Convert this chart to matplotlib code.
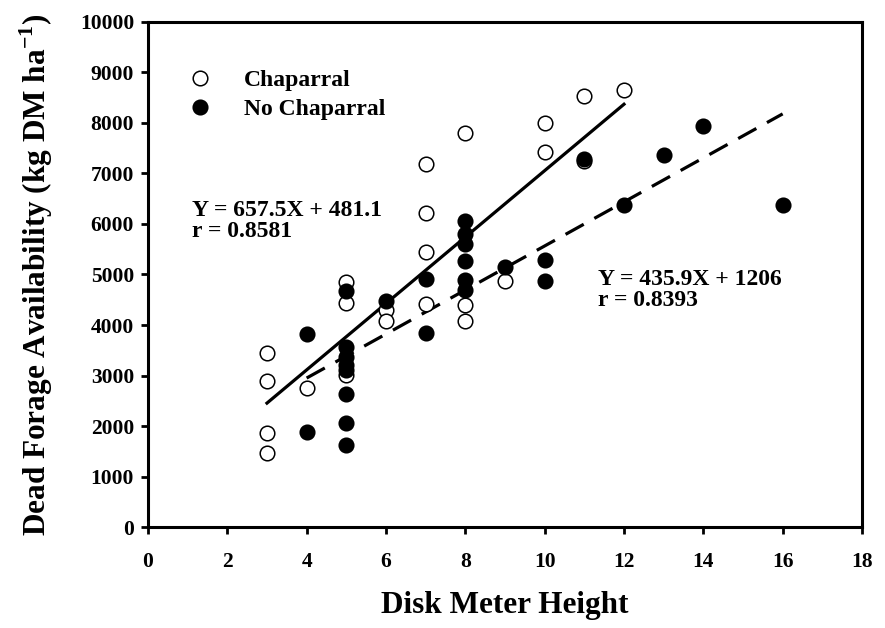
import numpy as np
import matplotlib
matplotlib.use("Agg")
import matplotlib.pyplot as plt

# Chaparral (open circles)
chap_x = [3, 3, 3, 3, 4, 5, 5, 5, 6, 6, 7, 7, 7, 7, 8, 8, 8, 9, 10, 10, 11, 11, 12]
chap_y = [3440, 2900, 1870, 1460, 2750, 4860, 4440, 3010, 4300, 4080,
          7190, 6220, 5440, 4420, 7800, 4400, 4080, 4880, 8000, 7420, 8540, 7240, 8650]

# No Chaparral (filled circles)
nochap_x = [4, 4, 5, 5, 5, 5, 5, 5, 5, 5, 6, 7, 7, 8, 8, 8, 8, 8, 8,
            9, 10, 10, 11, 12, 13, 14, 16]
nochap_y = [3820, 1880, 4680, 3560, 3370, 3210, 3100, 2640, 2060, 1620, 4480,
            4920, 3850, 6060, 5800, 5600, 5260, 4900, 4700,
            5150, 5280, 4880, 7280, 6370, 7370, 7950, 6380]

# regression fits as printed on the chart
chap_fit = (657.5, 481.1)
nochap_fit = (435.9, 1206)
chap_range = [3, 12]
nochap_range = [4, 16]

plt.rcParams['font.family'] = ['Liberation Serif', 'DejaVu Serif']
plt.rcParams['font.weight'] = 'bold'
plt.rcParams['mathtext.fontset'] = 'custom'
plt.rcParams['mathtext.bf'] = 'Liberation Serif:bold'
plt.rcParams['mathtext.rm'] = 'Liberation Serif:bold'

fig = plt.figure(figsize=(8.85, 6.28), dpi=100)
ax = fig.add_axes([0.1672, 0.1608, 0.8068, 0.8042])

xs = np.array(chap_range)
ax.plot(xs, chap_fit[0] * xs + chap_fit[1], color='black', lw=2.3, zorder=2)
xs = np.array(nochap_range)
ax.plot(xs, nochap_fit[0] * xs + nochap_fit[1], color='black', lw=2.3,
        dashes=(6.5, 3.8), zorder=2)

ax.plot(chap_x, chap_y, 'o', ms=10.5, mfc='white', mec='black', mew=1.1,
        label='Chaparral', zorder=3)
ax.plot(nochap_x, nochap_y, 'o', ms=10.5, mfc='black', mec='black', mew=1.1,
        label='No Chaparral', zorder=4)

ax.set_xlim(0, 18)
ax.set_ylim(0, 10000)
ax.set_xticks(range(0, 19, 2))
ax.set_yticks(range(0, 10001, 1000))
for s in ax.spines.values():
    s.set_linewidth(2.2)
ax.tick_params(direction='out', length=5, width=2, labelsize=15.5, pad=5)
ax.tick_params(axis='x', pad=13)
for lab in ax.get_xticklabels() + ax.get_yticklabels():
    lab.set_fontweight('bold')

ax.set_xlabel('Disk Meter Height', fontsize=22.5, fontweight='bold', labelpad=14)
ax.set_ylabel(r'Dead Forage Availability (kg DM ha$^{\mathbf{-1}}$)',
              fontsize=22.5, fontweight='bold', labelpad=18)

ax.text(1.1, 6480, 'Y = 657.5X + 481.1\nr = 0.8581', fontsize=17,
        fontweight='bold', va='top', ha='left', linespacing=1.0)
ax.text(11.35, 5100, 'Y = 435.9X + 1206\nr = 0.8393', fontsize=17,
        fontweight='bold', va='top', ha='left', linespacing=1.0)

ax.legend(loc='upper left', bbox_to_anchor=(0.027, 0.925), frameon=False,
          handletextpad=0.83, labelspacing=0.32, borderaxespad=0,
          prop={'weight': 'bold', 'size': 17})

fig.savefig('out.png', dpi=100)
